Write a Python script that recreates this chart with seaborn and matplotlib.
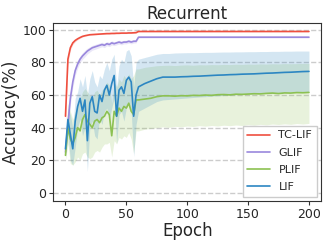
import numpy as np
import pandas as pd
import seaborn as sns
import matplotlib
matplotlib.use("Agg")
import matplotlib.pyplot as plt

epochs = list(range(0, 61, 2)) + list(range(65, 201, 5))

tclif_mean = [47, 82, 89, 92, 93.5, 94.5, 95.3, 96, 96.4, 96.7, 97, 97.1, 97.2, 97.3, 97.4, 97.5,
              97.6, 97.7, 97.7, 97.8, 97.8, 97.9, 97.9, 98, 98, 98, 98.1, 98.1, 98.2, 98.3, 99.0,
              99.0, 99.0, 99.0, 99.0, 99.0, 99.0, 99.0, 99.0, 99.0, 99.0, 99.0, 99.0, 99.0, 99.0,
              99.0, 99.0, 99.0, 99.0, 99.0, 99.0, 99.0, 99.0, 99.0, 99.0, 99.0, 99.0, 99.0, 99.0]
tclif_sd = [6, 3, 1.5, 1, 0.8, 0.6, 0.5, 0.4, 0.4, 0.3, 0.3, 0.3, 0.3, 0.3, 0.3, 0.3,
            0.3, 0.3, 0.3, 0.3, 0.3, 0.3, 0.3, 0.3, 0.3, 0.3, 0.3, 0.3, 0.3, 0.3, 0.2,
            0.2, 0.2, 0.2, 0.2, 0.2, 0.2, 0.2, 0.2, 0.2, 0.2, 0.2, 0.2, 0.2, 0.2,
            0.2, 0.2, 0.2, 0.2, 0.2, 0.2, 0.2, 0.2, 0.2, 0.2, 0.2, 0.2, 0.2, 0.2]

glif_mean = [25, 42, 58, 68, 75, 79, 82, 84, 85.5, 87, 88, 89, 89.5, 90, 90.5, 91,
             90.5, 91.5, 91, 92, 91.5, 92, 92.5, 92, 92.5, 92.5, 93, 92.5, 93, 93, 95.5,
             95.5, 95.5, 95.5, 95.5, 95.5, 95.5, 95.5, 95.5, 95.5, 95.5, 95.5, 95.5, 95.5, 95.5,
             95.5, 95.5, 95.5, 95.5, 95.5, 95.5, 95.5, 95.5, 95.5, 95.5, 95.5, 95.5, 95.5, 95.5]
glif_sd = [3, 4, 4, 3.5, 3, 2.5, 2, 2, 2, 1.8, 1.6, 1.5, 1.5, 1.5, 1.4, 1.4,
           1.4, 1.3, 1.3, 1.3, 1.2, 1.2, 1.2, 1.2, 1.1, 1.1, 1.1, 1.1, 1.1, 1.0, 0.5,
           0.5, 0.5, 0.5, 0.5, 0.5, 0.5, 0.5, 0.5, 0.5, 0.5, 0.5, 0.5, 0.5, 0.5,
           0.5, 0.5, 0.5, 0.5, 0.5, 0.5, 0.5, 0.5, 0.5, 0.5, 0.5, 0.5, 0.5, 0.5]

plif_mean = [23, 40, 33, 30, 34, 40, 38, 45, 48, 44, 42, 40, 44, 45, 43, 46,
             47, 50, 48, 35, 50, 47, 52, 50, 53, 52, 55, 50, 48, 57, 57,
             57.5, 58, 59, 59.5, 59.5, 59.3, 59.6, 59.5, 59.8, 59.7, 60, 59.8, 60.2, 60.3,
             60.1, 60.5, 60.4, 60.6, 60.8, 60.7, 61, 61.2, 60.9, 61.3, 61.2, 61.5, 61.4, 61.6]
plif_upper = [26, 55, 50, 45, 50, 55, 58, 62, 64, 62, 60, 58, 62, 63, 60, 63,
              65, 68, 66, 55, 68, 65, 70, 68, 72, 70, 73, 70, 72, 76, 76,
              77, 77.5, 78, 78.2, 78.3, 78.1, 78.4, 78.5, 78.3, 78.6, 78.5, 78.7, 78.6, 78.8,
              78.7, 78.9, 78.8, 79, 78.9, 79.1, 79, 79.2, 79.1, 79.3, 79.2, 79.3, 79.4, 79.4]
plif_lower = [20, 30, 18, 17, 19, 22, 20, 24, 25, 22, 21, 22, 25, 26, 25, 28,
              30, 30, 31, 22, 32, 30, 34, 33, 35, 34, 37, 33, 24, 38, 38,
              39, 39.5, 40, 40.5, 40.2, 40.8, 40.5, 41, 40.7, 41.2, 40.9, 41.3, 41, 41.5,
              41.2, 41.6, 41.3, 41.8, 41.5, 42, 41.7, 42.2, 41.9, 42.3, 42, 42.5, 42.2, 42.6]

lif_mean = [27, 45, 36, 27, 44, 53, 58, 50, 57, 32, 55, 59, 50, 49, 60, 56,
            63, 66, 60, 67, 72, 47, 63, 65, 61, 69, 71, 68, 47, 60, 65,
            67, 68.5, 70, 71, 71, 71, 71.2, 71.3, 71.5, 71.6, 71.8, 72, 72.2, 72.3,
            72.5, 72.6, 72.8, 72.9, 73, 73.2, 73.4, 73.5, 73.7, 73.9, 74, 74.2, 74.4, 74.5]
lif_upper = [30, 52, 48, 40, 58, 62, 70, 65, 72, 60, 70, 75, 68, 65, 72, 70,
             76, 80, 75, 82, 85, 65, 78, 82, 80, 87, 88, 84, 65, 80, 82,
             83, 84, 85, 85.5, 85.5, 85.8, 85.9, 86, 86, 86.1, 86.2, 86.2, 86.3, 86.4,
             86.4, 86.5, 86.5, 86.6, 86.6, 86.7, 86.7, 86.8, 86.8, 86.9, 86.9, 87, 87, 87]
lif_lower = [24, 36, 20, 17, 28, 40, 45, 35, 40, 13, 40, 44, 35, 33, 46, 42,
             50, 52, 45, 52, 58, 30, 48, 50, 44, 52, 55, 50, 22, 42, 50,
             52, 54, 56, 57, 57.3, 57.6, 57.9, 58.2, 58.5, 58.8, 59, 59.3, 59.5, 59.7,
             60, 60.2, 60.4, 60.6, 60.8, 61, 61.2, 61.3, 61.5, 61.6, 61.8, 61.9, 62, 62]

labels = ["TC-LIF", "GLIF", "PLIF", "LIF"]
colors = ["#ef4f3f", "#9a88dd", "#8cc152", "#2c86c2"]

means = [tclif_mean, glif_mean, plif_mean, lif_mean]
lows = [np.array(tclif_mean) - np.array(tclif_sd), np.array(glif_mean) - np.array(glif_sd),
        plif_lower, lif_lower]
highs = [np.array(tclif_mean) + np.array(tclif_sd), np.array(glif_mean) + np.array(glif_sd),
         plif_upper, lif_upper]

df = pd.concat([pd.DataFrame({"Epoch": epochs, "Accuracy": m, "Model": lab})
                for m, lab in zip(means, labels)], ignore_index=True)

sns.set_style("ticks")
fig, ax = plt.subplots(figsize=(3.27, 2.43), dpi=100)
fig.subplots_adjust(left=0.163, right=0.982, bottom=0.173, top=0.904)

for lo, hi, c in zip(lows, highs, colors):
    ax.fill_between(epochs, lo, hi, color=c, alpha=0.2, linewidth=0)

sns.lineplot(data=df, x="Epoch", y="Accuracy", hue="Model", palette=colors,
             hue_order=labels, linewidth=1.2, ax=ax)

ax.set_ylim(-5, 104)
ax.set_yticks([0, 20, 40, 60, 80, 100])
ax.set_xticks([0, 50, 100, 150, 200])
ax.yaxis.grid(True, linestyle="--", color="#cccccc", linewidth=1)
ax.set_axisbelow(True)
for s in ax.spines.values():
    s.set_color("#333333")
    s.set_linewidth(0.8)
ax.tick_params(labelsize=9, length=3, width=0.8, color="#333333", pad=2)
ax.set_title("Recurrent", fontsize=12, pad=3)
ax.set_xlabel("Epoch", fontsize=12, labelpad=1)
ax.set_ylabel("Accuracy(%)", fontsize=12, labelpad=2)
ax.legend(loc="lower right", fontsize=8, frameon=True, borderaxespad=0.4,
          handlelength=2.0, labelspacing=0.65, fancybox=False, edgecolor="#cccccc",
          framealpha=1)

fig.savefig("out.png", dpi=100)
